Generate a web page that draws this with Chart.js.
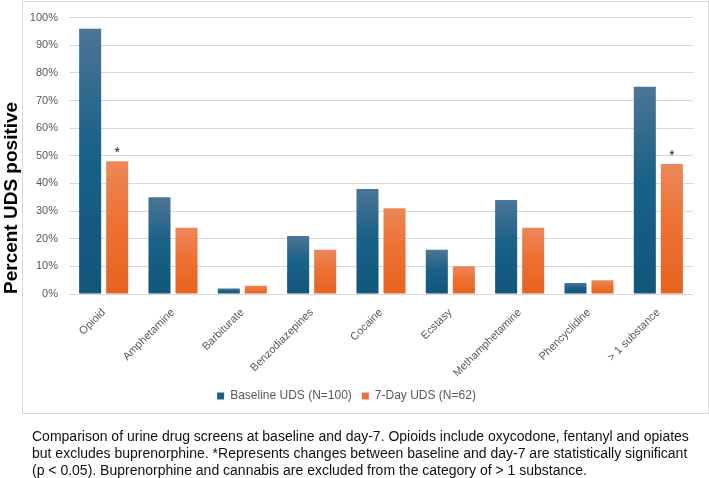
<!DOCTYPE html>
<html>
<head>
<meta charset="utf-8">
<script src="https://cdn.jsdelivr.net/npm/chart.js@4.4.1/dist/chart.umd.min.js"></script>
<style>
  html, body { margin: 0; padding: 0; background: #ffffff; }
  body { width: 709px; height: 478px; position: relative; overflow: hidden; font-family: "Liberation Sans", Arial, sans-serif; }
  #frame { position: absolute; left: 22px; top: 1px; width: 687px; height: 413px; border: 1px solid #d9d9d9; box-sizing: border-box; }
  #wrap { position: absolute; left: 0; top: 0; width: 709px; height: 430px; }
  #caption { position: absolute; left: 32px; top: 428px; font-size: 14px; line-height: 17px; color: #111; white-space: nowrap; }
</style>
</head>
<body>
<div id="frame"></div>
<div id="wrap"><canvas id="c" width="709" height="430"></canvas></div>
<div id="caption">Comparison of urine drug screens at baseline and day-7. Opioids include oxycodone, fentanyl and opiates<br>but excludes buprenorphine. *Represents changes between baseline and day-7 are statistically significant<br>(p &lt; 0.05). Buprenorphine and cannabis are excluded from the category of &gt; 1 substance.</div>
<script>
const categories = ["Opioid", "Amphetamine", "Barbiturate", "Benzodiazepines", "Cocaine", "Ecstasy", "Methamphetamine", "Phencyclidine", "> 1 substance"];
const baselineValues = [96, 35, 2, 21, 38, 16, 34, 4, 75];
const day7Values = [48, 24, 3, 16, 31, 10, 24, 5, 47];
const significant = [true, false, false, false, false, false, false, false, true];
const seriesNames = ["Baseline UDS (N=100)", "7-Day UDS (N=62)"];
const yTicks = [0, 10, 20, 30, 40, 50, 60, 70, 80, 90, 100];

const FONT = '"Liberation Sans", Arial, sans-serif';

function barGradient(ctx, top, bottom, fallback) {
  const chart = ctx.chart;
  const area = chart.chartArea;
  if (!area || ctx.type !== 'data') return fallback;
  const yScale = chart.scales.y;
  const v = ctx.raw;
  const yTop = yScale.getPixelForValue(v);
  const yBase = yScale.getPixelForValue(0);
  if (!isFinite(yTop) || yBase - yTop < 1) return fallback;
  const g = chart.ctx.createLinearGradient(0, yTop, 0, yBase);
  g.addColorStop(0, top);
  g.addColorStop(0.45, fallback);
  g.addColorStop(1, bottom);
  return g;
}

const starPlugin = {
  id: 'stars',
  afterDatasetsDraw(chart) {
    const meta = chart.getDatasetMeta(1);
    const c = chart.ctx;
    c.save();
    c.fillStyle = '#222';
    c.font = '14px ' + FONT;
    c.textAlign = 'center';
    c.textBaseline = 'bottom';
    significant.forEach((s, i) => {
      if (!s) return;
      const el = meta.data[i];
      c.fillText('*', el.x, el.y - 1);
    });
    c.restore();
  }
};

new Chart(document.getElementById('c'), {
  type: 'bar',
  data: {
    labels: categories,
    datasets: [
      {
        label: seriesNames[0],
        data: baselineValues,
        backgroundColor: (ctx) => barGradient(ctx, '#4d7596', '#11567b', '#1a6188'),
        borderWidth: 0,
        barPercentage: 0.815,
        categoryPercentage: 0.78
      },
      {
        label: seriesNames[1],
        data: day7Values,
        backgroundColor: (ctx) => barGradient(ctx, '#ed8759', '#e7621f', '#ec7234'),
        borderWidth: 0,
        barPercentage: 0.815,
        categoryPercentage: 0.78
      }
    ]
  },
  options: {
    responsive: false,
    animation: false,
    devicePixelRatio: 1,
    layout: { padding: { left: 0, right: 16, top: 11, bottom: 18 } },
    plugins: {
      tooltip: { enabled: false },
      legend: {
        display: true,
        position: 'bottom',
        labels: {
          boxWidth: 7,
          boxHeight: 7,
          padding: 10,
          color: '#595959',
          font: { family: FONT, size: 12 },
          generateLabels(chart) {
            const cols = ['#1a5f86', '#ec7234'];
            return chart.data.datasets.map((d, i) => ({
              text: d.label, fillStyle: cols[i], strokeStyle: cols[i], lineWidth: 0,
              hidden: false, datasetIndex: i, fontColor: '#595959'
            }));
          }
        }
      }
    },
    scales: {
      x: {
        grid: { display: false },
        border: { display: false },
        ticks: {
          color: '#595959',
          font: { family: FONT, size: 11 },
          minRotation: 45,
          maxRotation: 45,
          padding: 4,
          autoSkip: false
        },
        afterFit(scale) { scale.height = 86; }
      },
      y: {
        min: 0,
        max: 100,
        afterBuildTicks(scale) { scale.ticks = yTicks.map(v => ({ value: v })); },
        grid: { color: '#d9d9d9', drawTicks: false, lineWidth: 1 },
        border: { display: false },
        ticks: {
          color: '#595959',
          font: { family: FONT, size: 11 },
          padding: 11,
          callback: (v) => v + '%'
        },
        title: {
          display: true,
          text: 'Percent UDS positive',
          align: 'start',
          color: '#000',
          font: { family: FONT, size: 19, weight: 'bold' },
          padding: { top: 0, bottom: 0 }
        },
        afterFit(scale) { scale.width = 69; }
      }
    }
  },
  plugins: [starPlugin]
});
</script>
</body>
</html>
